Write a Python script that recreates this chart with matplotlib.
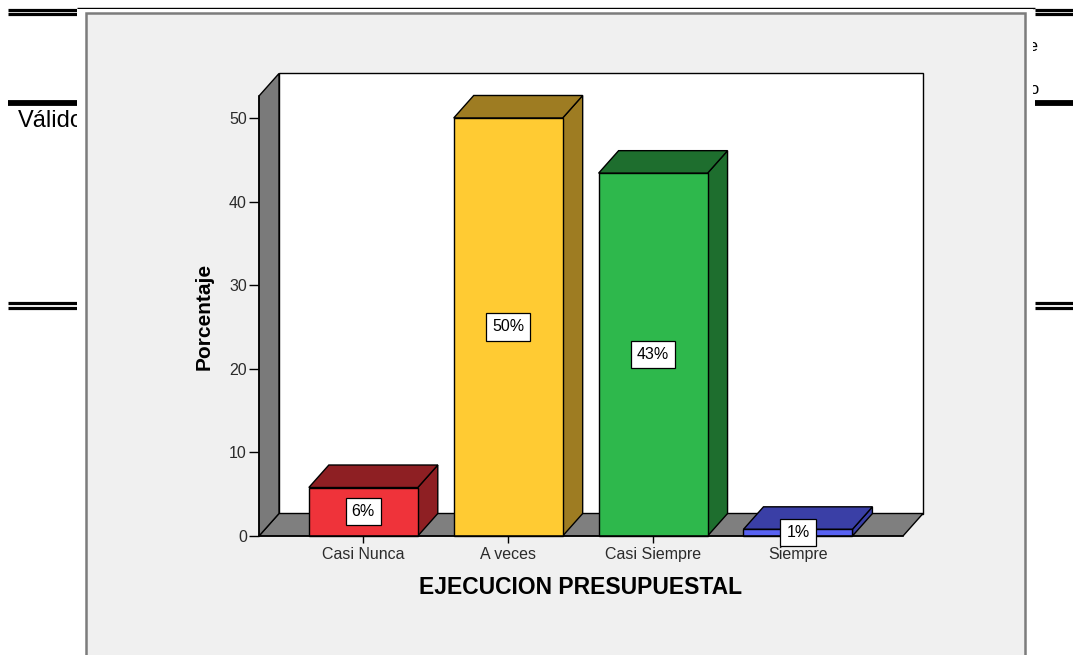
import matplotlib
matplotlib.use("Agg")
import matplotlib.pyplot as plt
from matplotlib.patches import Polygon, Rectangle

# ---- data ----
categories = ["Casi Nunca", "A veces", "Casi Siempre", "Siempre"]
percentages = [5.8, 50.0, 43.4, 0.8]
y_ticks = [0, 10, 20, 30, 40, 50]
x_title = "EJECUCION PRESUPUESTAL"
y_title = "Porcentaje"

front_colors = ["#EF333A", "#FFCB33", "#2EB84C", "#5862F2"]
shade_colors = ["#8E1F23", "#9E7C22", "#1E6E2E", "#3A3FA6"]

W, H = 1073, 655
fig = plt.figure(figsize=(W / 100, H / 100), dpi=100)
fig.patch.set_facecolor("white")

# ---- page background: document rules and text behind the chart image ----
bg = fig.add_axes([0, 0, 1, 1])
bg.set_xlim(0, W)
bg.set_ylim(H, 0)
bg.axis("off")

def hline(ax, x0, x1, y, lw):
    ax.plot([x0, x1], [y, y], color="black", lw=lw, solid_capstyle="butt", zorder=1)

hline(bg, 77, 1035, 8.2, 1.0)
for y in (9.8, 14.3):
    hline(bg, 8, 77, y, 2.3)
    hline(bg, 1035, W, y, 2.3)
hline(bg, 8, 77, 103, 4.2)
hline(bg, 1035, W, 103, 4.2)
for y in (303.3, 308.2):
    hline(bg, 8, 77, y, 2.3)
    hline(bg, 1035, W, y, 2.3)

bg.text(18, 121, "Válido", fontsize=17, family="Liberation Sans",
        ha="left", va="center", zorder=1)
bg.text(1039, 46, "Porcentaje", fontsize=12, family="Liberation Sans",
        ha="right", va="center", zorder=1)
bg.text(1039, 89, "acumulado", fontsize=12, family="Liberation Sans",
        ha="right", va="center", zorder=1)

# chart image: white margin and grey frame
bg.add_patch(Rectangle((77, 9), 956, 700, facecolor="white", edgecolor="none", zorder=2))
bg.add_patch(Rectangle((85.5, 12.5), 939.5, 700, facecolor="#F0F0F0",
                       edgecolor="#7C7C7C", lw=1.8, zorder=3))

# ---- 3D bar chart ----
x0_px, x1_px = 259, 903
y0_px, y1_px = 536, 96
ax = fig.add_axes([x0_px / W, 1 - y0_px / H, (x1_px - x0_px) / W, (y0_px - y1_px) / H])
ax.patch.set_visible(False)
xmin, xmax = -0.72, 3.725
ymin, ymax = 0, 52.63
ax.set_xlim(xmin, xmax)
ax.set_ylim(ymin, ymax)
for s in ax.spines.values():
    s.set_visible(False)

# depth offset in data units (about 20 px right, 22.5 px up)
px_x = (x1_px - x0_px) / (xmax - xmin)
px_y = (y0_px - y1_px) / (ymax - ymin)
dx = 20 / px_x
dy = 22.5 / px_y

edge = dict(edgecolor="black", lw=1.0, clip_on=False, joinstyle="miter")

# back wall, floor, left wall
ax.add_patch(Polygon([(xmin + dx, dy), (xmax + dx, dy), (xmax + dx, ymax + dy),
                      (xmin + dx, ymax + dy)], closed=True, facecolor="white", zorder=1, **edge))
ax.add_patch(Polygon([(xmin, 0), (xmax, 0), (xmax + dx, dy), (xmin + dx, dy)],
                     closed=True, facecolor="#7F7F7F", zorder=2, **edge))
ax.add_patch(Polygon([(xmin, 0), (xmin + dx, dy), (xmin + dx, ymax + dy), (xmin, ymax)],
                     closed=True, facecolor="#7A7A7A", zorder=2, **edge))

bw = 0.752
xs = list(range(len(categories)))
for x, v, fc, sc in zip(xs, percentages, front_colors, shade_colors):
    l, r = x - bw / 2, x + bw / 2
    ax.add_patch(Polygon([(r, 0), (r + dx, dy), (r + dx, v + dy), (r, v)],
                         closed=True, facecolor=sc, zorder=3, **edge))
    ax.add_patch(Polygon([(l, v), (r, v), (r + dx, v + dy), (l + dx, v + dy)],
                         closed=True, facecolor=sc, zorder=3, **edge))
ax.bar(xs, percentages, width=bw, color=front_colors, edgecolor="black",
       linewidth=1.0, zorder=4, clip_on=False)

for x, v in zip(xs, percentages):
    ax.text(x, v / 2, f"{v:.0f}%", ha="center", va="center", fontsize=11.5,
            family="Liberation Sans", color="black", zorder=6,
            bbox=dict(boxstyle="square,pad=0.38", facecolor="white",
                      edgecolor="black", lw=0.9))

# front edge lines of the floor and left wall
ax.plot([xmin, xmax], [0, 0], color="black", lw=1.1, zorder=5, clip_on=False)
ax.plot([xmin, xmin], [0, ymax], color="black", lw=1.1, zorder=5, clip_on=False)

ax.set_yticks(y_ticks)
ax.set_xticks(xs)
ax.set_xticklabels(categories)
ax.tick_params(axis="y", direction="out", length=7.3, width=1.0, pad=1.5,
               labelsize=11.5, labelcolor="#2B2B2B")
ax.tick_params(axis="x", direction="out", length=5, width=1.0, pad=3,
               labelsize=11.5, labelcolor="#2B2B2B")
for lab in ax.get_xticklabels() + ax.get_yticklabels():
    lab.set_family("Liberation Sans")

fig.text(581 / W, 1 - 588 / H, x_title, ha="center", va="center",
         fontsize=16.5, fontweight="bold", family="Liberation Sans")
fig.text(204 / W, 1 - 316 / H, y_title, ha="center", va="center", rotation=90,
         fontsize=15, fontweight="bold", family="Liberation Sans")

fig.savefig("out.png", dpi=100, facecolor="white")
